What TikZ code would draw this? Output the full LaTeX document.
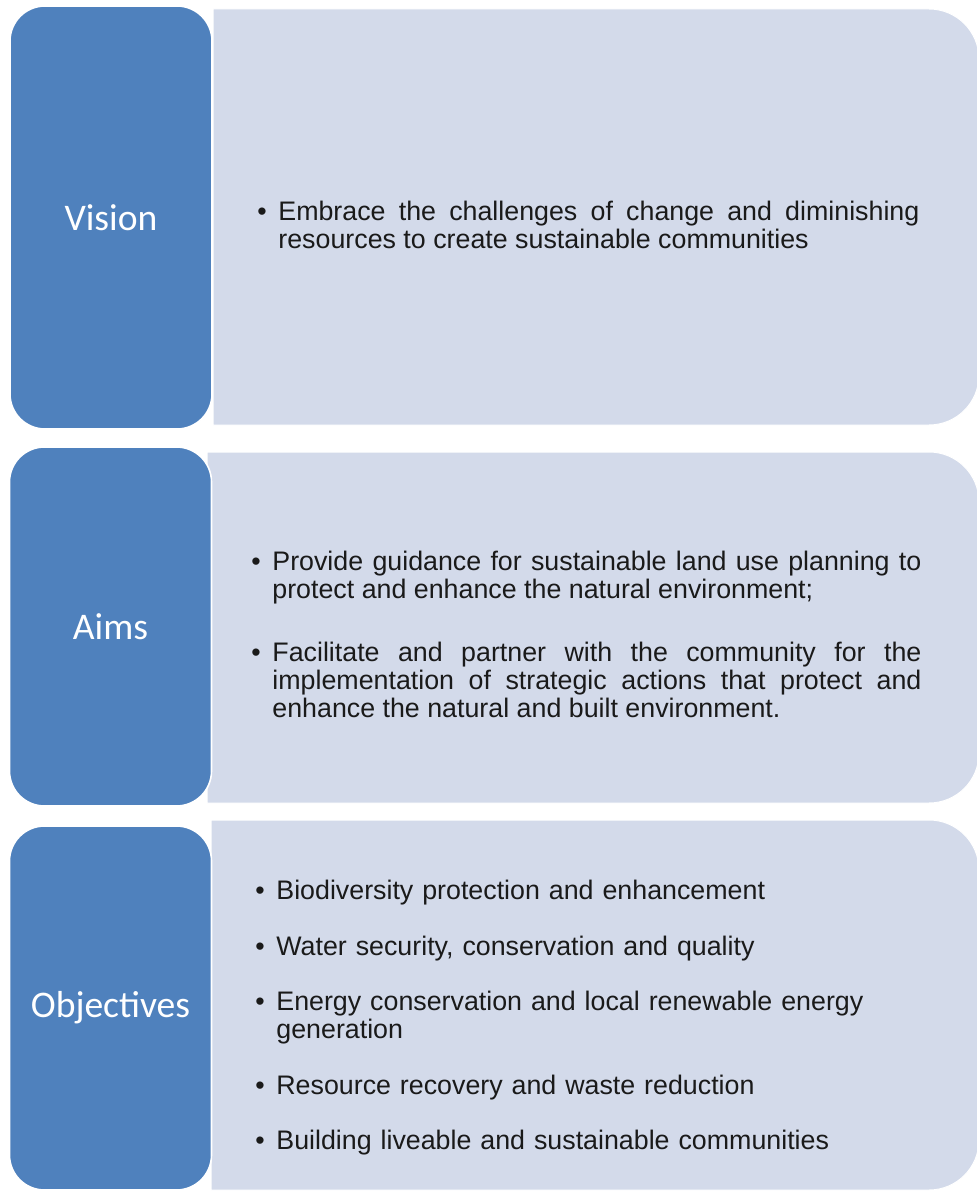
\documentclass[tikz,border=0pt]{standalone}
\usepackage{fontspec}
\setmainfont{Liberation Sans}
\newfontfamily\headfont{Carlito}
\usetikzlibrary{positioning}
\definecolor{headblue}{HTML}{4F81BD}
\definecolor{bodyblue}{HTML}{D3DAEA}
\definecolor{bodytext}{HTML}{1A1A1A}
\newcommand{\bul}[1]{\par\noindent\hangindent=10.5pt\hangafter=1\makebox[10.5pt][l]{\strut\textbullet}#1\par}
\tikzset{
	head/.style={draw=white, line width=0.8pt, fill=headblue, rounded corners=17.5pt, text=white, font=\headfont\fontsize{18.8pt}{20pt}\selectfont, minimum width=101pt},
	body/.style={draw=white, line width=0.5pt, fill=bodyblue},
	list/.style={anchor=north west, inner sep=0pt, text=bodytext, font=\fontsize{13.4pt}{14pt}\selectfont}
}
\tolerance=10000
\hyphenpenalty=10000

\begin{document}
\begin{tikzpicture}[x=0.5pt,y=-0.5pt]
	\useasboundingbox (0,0) rectangle (977,1192);

	% panels
	\draw[body] (213,425) -- (213,9) [rounded corners=25pt] -- (979,9) -- (979,425) [sharp corners] -- cycle;
	\draw[body] (207,803) -- (207,452) [rounded corners=25pt] -- (979,452) -- (979,803) [sharp corners] -- cycle;
	\draw[body] (211,1190) -- (211,820) [rounded corners=25pt] -- (979,820) -- (979,1190) [sharp corners] -- cycle;

	% headings
	\node[head, minimum height=211.5pt] (vision) at (111,217.5) {Vision};
	\node[head, minimum height=179.5pt] (aims) at (110.5,626.5) {Aims};
	\node[head, minimum height=182pt] (objectives) at (110.5,1008) {Objectives};

	% lists
	\node[list, text width=331pt, align=justify] (visionlist) at (257,192.4) {\bul{Embrace the challenges of change and diminishing\linebreak resources to create sustainable communities}};
	\node[list, text width=335pt, align=justify] (aimslist) at (251,542.4) {%
		\bul{Provide guidance for sustainable land use planning to\linebreak protect and enhance the natural environment;}
		\setlength{\parskip}{17.5pt}%
		\bul{Facilitate and partner with the community for the\linebreak implementation of strategic actions that protect and\linebreak enhance the natural and built environment.}};
	\node[list, text width=335pt, align=left] (objectiveslist) at (255,871.4) {%
		\bul{Biodiversity protection and enhancement}
		\setlength{\parskip}{13.75pt}%
		\bul{Water security, conservation and quality}
		\bul{Energy conservation and local renewable energy\newline generation}
		\bul{Resource recovery and waste reduction}
		\bul{Building liveable and sustainable communities}};
\end{tikzpicture}
\end{document}
